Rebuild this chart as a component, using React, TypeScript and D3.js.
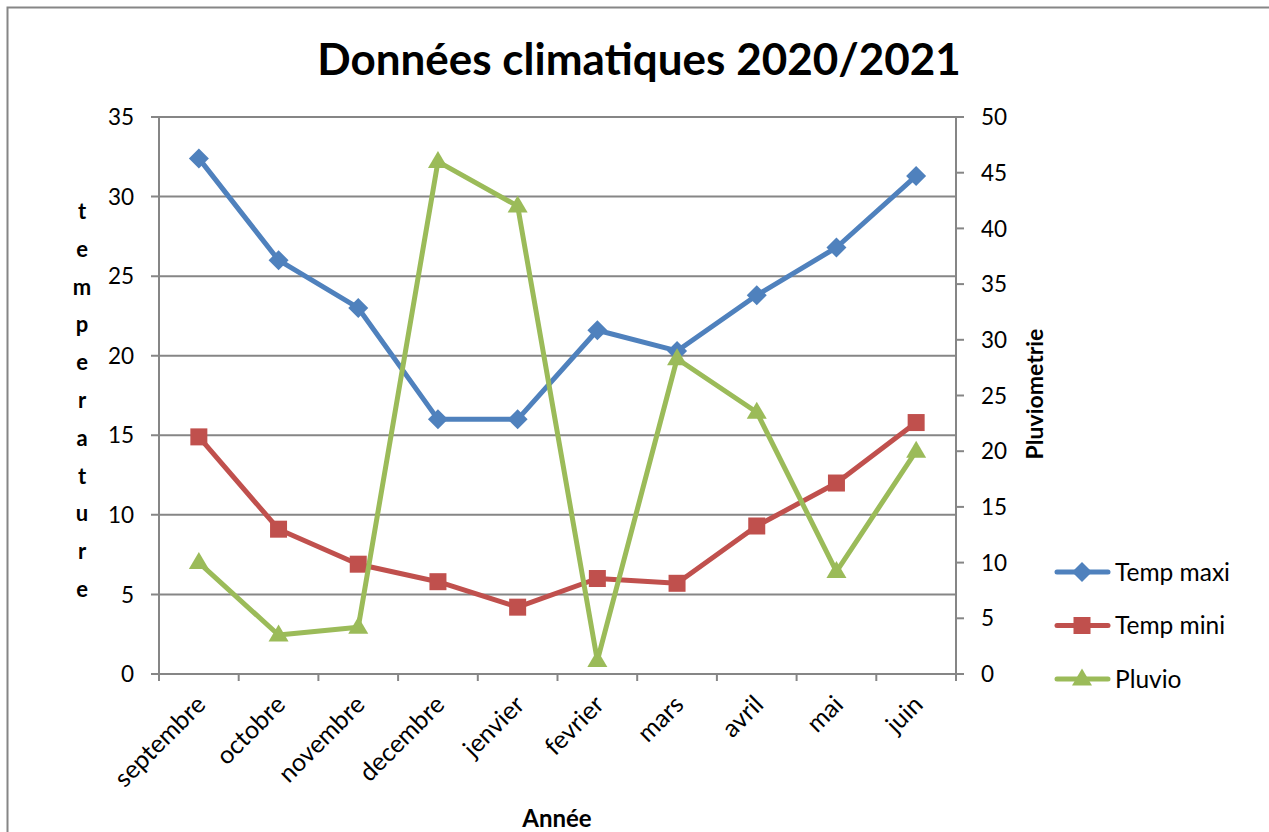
import React from "react";
import * as d3 from "d3";

const months = ["septembre", "octobre", "novembre", "decembre", "jenvier", "fevrier", "mars", "avril", "mai", "juin"];
const tempMaxi = [32.4, 26.0, 23.0, 16.0, 16.0, 21.6, 20.3, 23.8, 26.8, 31.3];
const tempMini = [14.9, 9.1, 6.9, 5.8, 4.2, 6.0, 5.7, 9.3, 12.0, 15.8];
const pluvio = [10.0, 3.5, 4.2, 46.0, 42.0, 1.2, 28.3, 23.5, 9.2, 20.0];
const leftTicks = [0, 5, 10, 15, 20, 25, 30, 35];
const rightTicks = [0, 5, 10, 15, 20, 25, 30, 35, 40, 45, 50];
const seriesNames = ["Temp maxi", "Temp mini", "Pluvio"];

const W = 1269, H = 832;
const L = 159, R = 956, T = 117, B = 674;
const FONT = "Lato, 'Open Sans', sans-serif";
const GRID = "#868686";
const COLORS = ["#4F81BD", "#C0504D", "#9BBB59"];

function Marker({ type, x, y, color }: { type: number; x: number; y: number; color: string }) {
  if (type === 0) {
    const s = 10;
    return <path d={`M${x},${y - s}L${x + s},${y}L${x},${y + s}L${x - s},${y}Z`} fill={color} />;
  }
  if (type === 1) {
    const s = 8.5;
    return <rect x={x - s} y={y - s} width={2 * s} height={2 * s} fill={color} />;
  }
  const w = 10, h = 17;
  return <path d={`M${x},${y - h * 0.62}L${x + w},${y + h * 0.38}L${x - w},${y + h * 0.38}Z`} fill={color} />;
}

export default function App() {
  const x = d3.scaleBand<string>().domain(months).range([L, R]);
  const yL = d3.scaleLinear().domain([0, 35]).range([B, T]);
  const yR = d3.scaleLinear().domain([0, 50]).range([B, T]);
  const cx = (m: string) => (x(m) as number) + x.bandwidth() / 2;

  const series = [
    { vals: tempMaxi, y: yL },
    { vals: tempMini, y: yL },
    { vals: pluvio, y: yR },
  ];
  const line = (vals: number[], y: d3.ScaleLinear<number, number>) =>
    d3.line<number>().x((_, i) => cx(months[i])).y((v) => y(v))(vals) as string;

  const letters = "temperature".split("");
  const boundaries = d3.range(months.length + 1).map((i) => L + i * x.step());

  return (
    <svg width={W} height={H} style={{ position: "absolute", left: 0, top: 0, background: "#fff" }} fontFamily={FONT}>
      <rect x={7.5} y={7.5} width={W + 20} height={H + 20} fill="#fff" stroke={GRID} strokeWidth={2} />
      <text x={639} y={75} textAnchor="middle" fontSize={44} fontWeight="bold" fill="#000">
        Données climatiques 2020/2021
      </text>

      {/* gridlines */}
      {leftTicks.map((t) => (
        <line key={"g" + t} x1={L - 8} x2={R} y1={yL(t)} y2={yL(t)} stroke={GRID} strokeWidth={2} />
      ))}
      {/* left axis */}
      <line x1={L} x2={L} y1={T} y2={B + 7} stroke={GRID} strokeWidth={2} />
      {leftTicks.map((t) => (
        <text key={"l" + t} x={134} y={yL(t)} dy="0.36em" textAnchor="end" fontSize={22.5} fill="#000">
          {t}
        </text>
      ))}
      {/* right axis */}
      <line x1={R} x2={R} y1={T} y2={B + 7} stroke={GRID} strokeWidth={2} />
      {rightTicks.map((t) => (
        <g key={"r" + t}>
          <line x1={R} x2={R + 8} y1={yR(t)} y2={yR(t)} stroke={GRID} strokeWidth={2} />
          <text x={981} y={yR(t)} dy="0.36em" textAnchor="start" fontSize={22.5} fill="#000">
            {t}
          </text>
        </g>
      ))}
      {/* x ticks */}
      {boundaries.map((b, i) => (
        <line key={"xt" + i} x1={b} x2={b} y1={B} y2={B + 7} stroke={GRID} strokeWidth={2} />
      ))}
      {months.map((m) => (
        <text
          key={"xl" + m}
          transform={`translate(${cx(m) + 2},${B + 26}) rotate(-45)`}
          textAnchor="end"
          dy="0.35em"
          fontSize={25}
          fill="#000"
        >
          {m}
        </text>
      ))}

      {/* axis titles */}
      {letters.map((c, i) => (
        <text key={"lt" + i} x={82} y={211 + i * 37.8} dy="0.36em" textAnchor="middle" fontSize={22} fontWeight="bold" fill="#000">
          {c}
        </text>
      ))}
      <text transform={`translate(1035,394) rotate(-90)`} textAnchor="middle" dy="0.36em" fontSize={23} fontWeight="bold" fill="#000">
        Pluviometrie
      </text>
      <text x={557} y={827} textAnchor="middle" fontSize={24} fontWeight="bold" fill="#000">
        Année
      </text>

      {/* series */}
      {series.map((s, si) => (
        <g key={"s" + si}>
          <path d={line(s.vals, s.y)} fill="none" stroke={COLORS[si]} strokeWidth={5} strokeLinejoin="round" />
          {s.vals.map((v, i) => (
            <Marker key={i} type={si} x={cx(months[i])} y={s.y(v)} color={COLORS[si]} />
          ))}
        </g>
      ))}

      {/* legend */}
      {seriesNames.map((n, i) => {
        const ly = 572 + i * 53.5;
        return (
          <g key={"lg" + i}>
            <line x1={1057} x2={1108} y1={ly} y2={ly} stroke={COLORS[i]} strokeWidth={5} strokeLinecap="round" />
            <Marker type={i} x={1082} y={ly} color={COLORS[i]} />
            <text x={1115} y={ly} dy="0.36em" fontSize={24.5} fill="#000">
              {n}
            </text>
          </g>
        );
      })}
    </svg>
  );
}
